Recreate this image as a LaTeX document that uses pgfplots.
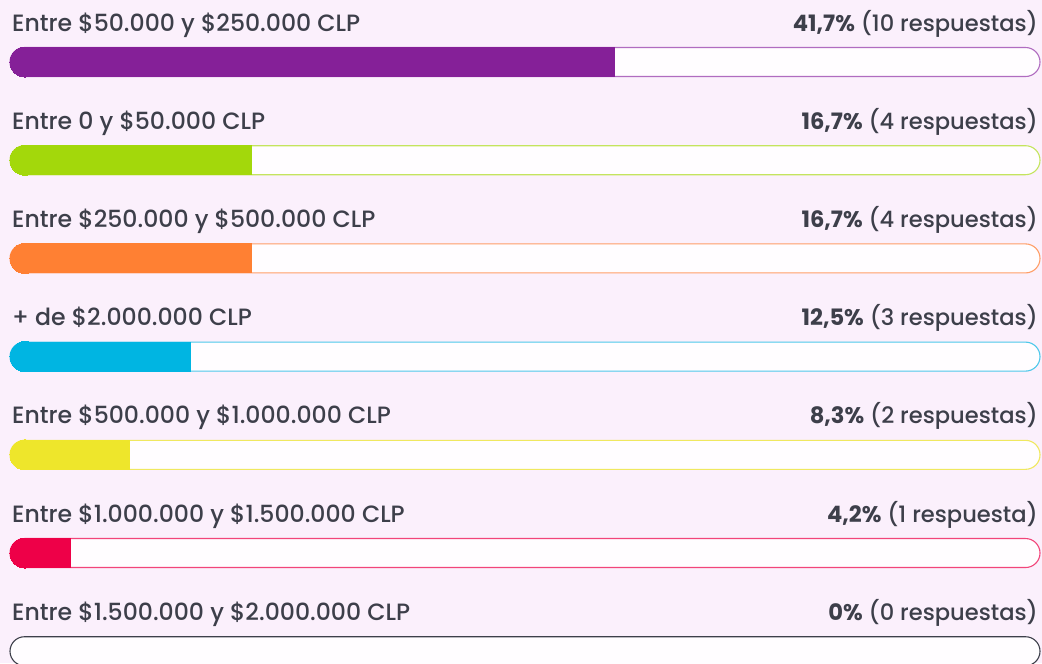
\documentclass[border=0pt]{standalone}
\usepackage{pgfplots}
\pgfplotsset{compat=1.18}
\usepackage{fontspec}
\setmainfont{Poppins}[UprightFont={* Medium}, BoldFont={* Bold}]
\definecolor{bg}{HTML}{FBF0FC}
\definecolor{txt}{HTML}{3D3F4A}
\definecolor{trk}{HTML}{FFFDFF}
\definecolor{cA}{HTML}{852098}\definecolor{oA}{HTML}{B06CC0}
\definecolor{cB}{HTML}{A3D80B}\definecolor{oB}{HTML}{C4E45E}
\definecolor{cC}{HTML}{FF8033}\definecolor{oC}{HTML}{FF9E68}
\definecolor{cD}{HTML}{00B5E2}\definecolor{oD}{HTML}{4EC8EA}
\definecolor{cE}{HTML}{EEE62B}\definecolor{oE}{HTML}{F0E860}
\definecolor{cF}{HTML}{EE0048}\definecolor{oF}{HTML}{F2457A}
\definecolor{cG}{HTML}{3D3F4A}\definecolor{oG}{HTML}{3D3F4A}
% #1 row, #2 value, #3 fill colour, #4 outline colour, #5 label, #6 bold pct, #7 responses
\newcommand{\barrow}[7]{%
  \addplot[xbar, bar shift=0pt, bar width=29pt, fill=trk, draw=#4, line width=1.1pt, rounded corners=14.5pt] coordinates {(71,#1)};
  \ifdim #2pt>0pt
  \addplot[draw=#3, line width=30pt, line cap=butt, mark=none] coordinates {(1.034,#1) (#2,#1)};
  \addplot[only marks, color=#3, mark=*, mark size=15pt, mark options={draw=#3, fill=#3, line width=0pt}] coordinates {(1.034,#1)};
  \fi
  \node[anchor=base west, text=txt, font=\fontsize{23.6}{28}\selectfont, inner sep=0pt] at (axis cs:0,#1) [xshift=2pt, yshift=31pt] {#5};
  \node[anchor=base east, text=txt, font=\fontsize{22.6}{27}\selectfont, inner sep=0pt] at (axis cs:71,#1) [xshift=-2pt, yshift=31pt] {\textbf{#6} (#7)};
}
\begin{document}
\begin{tikzpicture}
\begin{axis}[
  name=ax, at={(0,0)}, anchor=south west,
  scale only axis, width=1042pt, height=663pt,
  xmin=-0.6893, xmax=71.138, ymin=-0.6314, ymax=6.1202,
  y dir=reverse,
  axis line style={draw=none}, ticks=none,
  axis background/.style={fill=bg},
  clip=true,
]
\barrow{0}{41.7}{cA}{oA}{Entre \$50.000 y \$250.000 CLP}{41,7\%}{10 respuestas}
\barrow{1}{16.7}{cB}{oB}{Entre 0 y \$50.000 CLP}{16,7\%}{4 respuestas}
\barrow{2}{16.7}{cC}{oC}{Entre \$250.000 y \$500.000 CLP}{16,7\%}{4 respuestas}
\barrow{3}{12.5}{cD}{oD}{+ de \$2.000.000 CLP}{12,5\%}{3 respuestas}
\barrow{4}{8.3}{cE}{oE}{Entre \$500.000 y \$1.000.000 CLP}{8,3\%}{2 respuestas}
\barrow{5}{4.2}{cF}{oF}{Entre \$1.000.000 y \$1.500.000 CLP}{4,2\%}{1 respuesta}
\barrow{6}{0}{cG}{oG}{Entre \$1.500.000 y \$2.000.000 CLP}{0\%}{0 respuestas}
\coordinate (A) at (rel axis cs:0,0);
\coordinate (B) at (rel axis cs:1,1);
\end{axis}
\pgfresetboundingbox
\path[use as bounding box] (A) rectangle (B);
\end{tikzpicture}
\end{document}
